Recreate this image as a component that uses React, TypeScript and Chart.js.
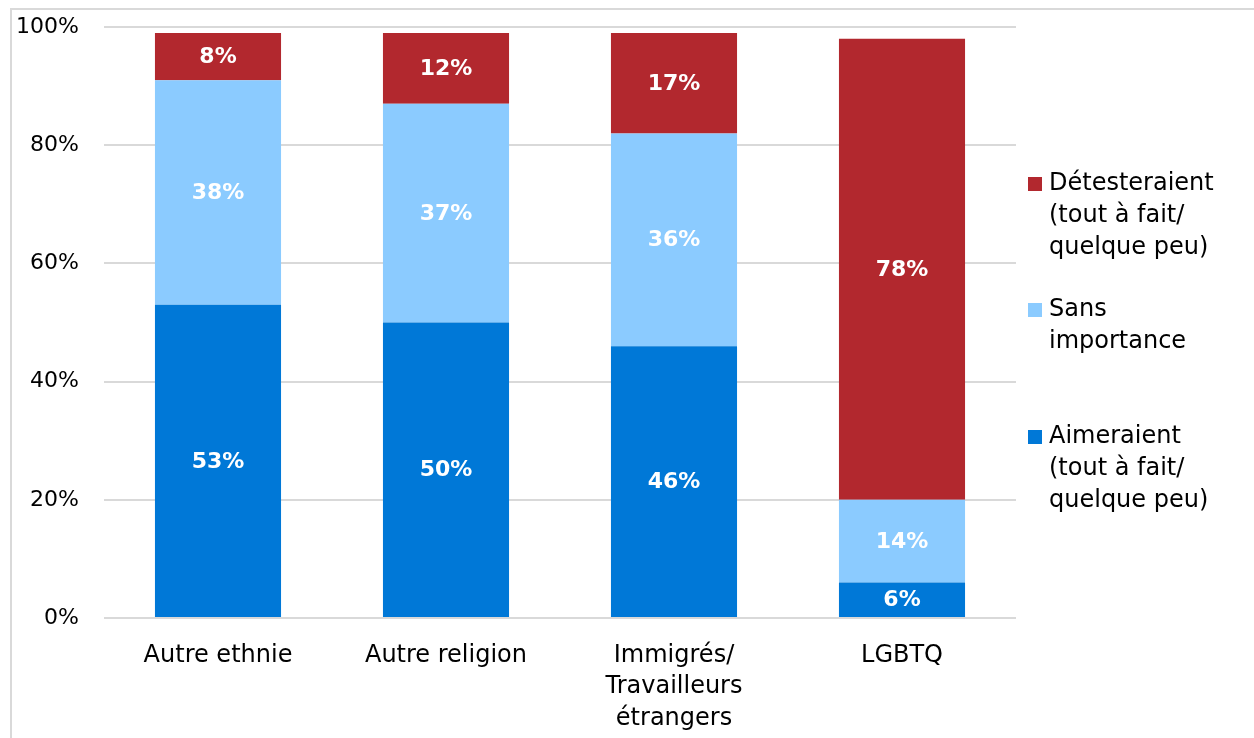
import React, { useEffect, useRef } from "react";
import { Chart, registerables } from "chart.js";

Chart.register(...registerables);

const categories: string[][] = [["Autre ethnie"], ["Autre religion"], ["Immigrés/", "Travailleurs", "étrangers"], ["LGBTQ"]];
const aimeraient = [53, 50, 46, 6];
const sansImportance = [38, 37, 36, 14];
const detesteraient = [8, 12, 17, 78];
const yTicks = [0, 20, 40, 60, 80, 100];

const legendLabels: { lines: string[]; color: string }[] = [
  { lines: ["Détesteraient", "(tout à fait/", "quelque peu)"], color: "#B2282E" },
  { lines: ["Sans", "importance"], color: "#8BCBFF" },
  { lines: ["Aimeraient", "(tout à fait/", "quelque peu)"], color: "#0078D7" },
];

const FONT = "'Century Gothic', 'DejaVu Sans', sans-serif";

const dataLabelPlugin = {
  id: "dataLabels",
  afterDatasetsDraw(chart: any) {
    const ctx = chart.ctx;
    ctx.save();
    ctx.fillStyle = "#ffffff";
    ctx.font = `bold 22px ${FONT}`;
    ctx.textAlign = "center";
    ctx.textBaseline = "middle";
    chart.data.datasets.forEach((ds: any, i: number) => {
      const meta = chart.getDatasetMeta(i);
      meta.data.forEach((el: any, j: number) => {
        const v = ds.data[j];
        ctx.fillText(v + "%", el.x, (el.y + el.base) / 2 + 1);
      });
    });
    ctx.restore();
  },
};

const legendPlugin = {
  id: "customLegend",
  afterDraw(chart: any) {
    const ctx = chart.ctx;
    const area = chart.chartArea;
    ctx.save();
    ctx.font = `24px ${FONT}`;
    ctx.textBaseline = "middle";
    ctx.textAlign = "left";
    const x0 = area.right + 12;
    const starts = [174, 300, 427];
    legendLabels.forEach((item, i) => {
      const y = starts[i];
      ctx.fillStyle = item.color;
      ctx.fillRect(x0, y - 7, 14, 14);
      ctx.fillStyle = "#000000";
      item.lines.forEach((line, k) => {
        ctx.fillText(line, x0 + 21, y + k * 32);
      });
    });
    ctx.restore();
  },
};

export default function App() {
  const ref = useRef<HTMLCanvasElement>(null);
  useEffect(() => {
    if (!ref.current) return;
    const chart = new Chart(ref.current, {
      type: "bar",
      data: {
        labels: categories,
        datasets: [
          { label: "Aimeraient", data: aimeraient, backgroundColor: "#0078D7" },
          { label: "Sans importance", data: sansImportance, backgroundColor: "#8BCBFF" },
          { label: "Détesteraient", data: detesteraient, backgroundColor: "#B2282E" },
        ],
      },
      options: {
        animation: false,
        responsive: false,
        maintainAspectRatio: false,
        layout: { padding: { top: 17, right: 238, bottom: 0, left: 0 } },
        datasets: { bar: { categoryPercentage: 1, barPercentage: 0.553 } },
        plugins: { legend: { display: false }, tooltip: { enabled: false } },
        scales: {
          x: {
            stacked: true,
            grid: { display: false, drawTicks: false },
            border: { display: false },
            ticks: {
              color: "#000",
              font: { family: FONT, size: 24, lineHeight: 1.31 },
              padding: 22,
              maxRotation: 0,
              autoSkip: false,
            },
            afterFit: (s: any) => {
              s.height = 120;
              s.paddingLeft = 0;
              s.paddingRight = 0;
            },
          },
          y: {
            stacked: true,
            min: 0,
            max: 100,
            afterBuildTicks: (s: any) => {
              s.ticks = yTicks.map((v) => ({ value: v }));
            },
            grid: { color: "#d9d9d9", lineWidth: 2, drawTicks: false },
            border: { display: false },
            ticks: {
              color: "#000",
              font: { family: FONT, size: 22 },
              padding: 25,
              callback: (v: any) => v + "%",
            },
            afterFit: (s: any) => {
              s.width = 92;
              s.paddingTop = 0;
              s.paddingBottom = 0;
            },
          },
        },
      },
      plugins: [dataLabelPlugin, legendPlugin],
    });
    return () => chart.destroy();
  }, []);
  return (
    <div
      style={{
        position: "fixed",
        left: 10,
        top: 8,
        width: 1244,
        height: 730,
        borderTop: "2px solid #d9d9d9",
        borderLeft: "2px solid #d9d9d9",
        boxSizing: "border-box",
        background: "#fff",
      }}
    >
      <canvas ref={ref} width={1242} height={728} style={{ display: "block" }} />
    </div>
  );
}
